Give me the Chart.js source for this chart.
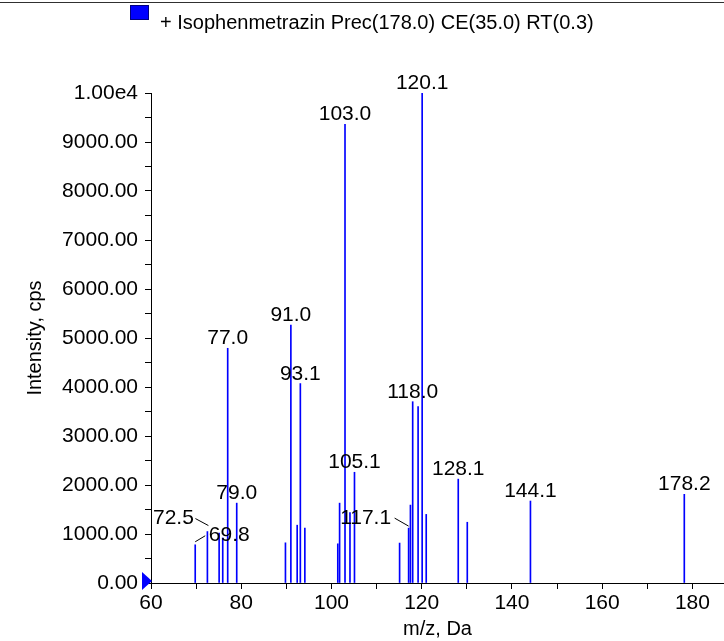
<!DOCTYPE html>
<html lang="en">
<head>
    <meta charset="UTF-8">
    <title>Isophenmetrazin MS/MS</title>
    <style>
        * { padding: 0; margin: 0; }
        body { background: white; }
        canvas { display: block; }
    </style>
</head>
<body>
    <canvas id="spectrum" width="724" height="641"></canvas>

    <script src="https://cdn.jsdelivr.net/npm/chart.js"></script>
    <script>
        // data
        const mzValues = [69.8, 72.5, 75.1, 75.9, 77.0, 79.0, 89.8, 91.0, 92.4, 93.1, 94.1,
                          101.4, 101.8, 103.0, 104.1, 105.1, 115.1, 117.1, 117.5, 118.0, 119.2,
                          120.1, 121.0, 128.1, 130.1, 144.1, 178.2];
        const intensities = [780, 1050, 1020, 920, 4790, 1630, 820, 5265, 1180, 4070, 1120,
                             800, 1630, 9360, 1435, 2260, 815, 1120, 1590, 3700, 3600,
                             10000, 1400, 2120, 1240, 1673, 1810];
        const peakLabels = ['69.8', '72.5', null, null, '77.0', '79.0', null, '91.0', null, '93.1', null,
                            null, null, '103.0', null, '105.1', null, '117.1', null, '118.0', null,
                            '120.1', null, '128.1', null, '144.1', '178.2'];
        const titleText = '+ Isophenmetrazin Prec(178.0) CE(35.0) RT(0.3)';

        const FONT = "'Liberation Sans', Arial, sans-serif";

        // labels that sit beside the peak with a short leader line
        const leaders = {
            '72.5': { dx: -34, dy: -8, x1: -12, y1: -13, x2: 1, y2: -6 },
            '69.8': { dx: 34, dy: -4, x1: 0, y1: -3, x2: 10, y2: -9 },
            '117.1': { dx: -43, dy: -4, x1: -14, y1: -10, x2: 0, y2: -2 }
        };

        const peakLabelPlugin = {
            id: 'peakLabels',
            afterDatasetsDraw(chart) {
                const ctx = chart.ctx;
                const xs = chart.scales.x, ys = chart.scales.y;
                ctx.save();
                ctx.font = '21px ' + FONT;
                ctx.fillStyle = 'black';
                ctx.strokeStyle = 'black';
                ctx.lineWidth = 1;
                ctx.textAlign = 'center';
                ctx.textBaseline = 'alphabetic';
                peakLabels.forEach((lbl, i) => {
                    if (!lbl) return;
                    const px = xs.getPixelForValue(mzValues[i]);
                    const py = ys.getPixelForValue(intensities[i]);
                    const l = leaders[lbl];
                    if (l) {
                        ctx.fillText(lbl, px + l.dx, py + l.dy);
                        ctx.beginPath();
                        ctx.moveTo(px + l.x1, py + l.y1);
                        ctx.lineTo(px + l.x2, py + l.y2);
                        ctx.stroke();
                    } else {
                        ctx.fillText(lbl, px, py - 4);
                    }
                });

                // blue marker at the origin of the y axis
                const y0 = ys.getPixelForValue(0);
                const x0 = xs.left;
                ctx.fillStyle = '#0000ff';
                ctx.beginPath();
                ctx.moveTo(x0 - 9, y0 - 11);
                ctx.lineTo(x0 + 1, y0 - 2);
                ctx.lineTo(x0 - 9, y0 + 7);
                ctx.closePath();
                ctx.fill();
                ctx.restore();
            },
            afterDraw(chart) {
                // header strip: border line, legend box and trace title
                const ctx = chart.ctx;
                ctx.save();
                ctx.strokeStyle = '#303030';
                ctx.lineWidth = 1;
                ctx.beginPath();
                ctx.moveTo(0, 2.5);
                ctx.lineTo(chart.width, 2.5);
                ctx.stroke();
                ctx.fillStyle = '#0000ff';
                ctx.fillRect(130, 5, 19, 15);
                ctx.strokeStyle = '#000080';
                ctx.strokeRect(130.5, 5.5, 18, 14);
                ctx.fillStyle = 'black';
                ctx.font = '20px ' + FONT;
                ctx.textAlign = 'left';
                ctx.textBaseline = 'alphabetic';
                ctx.fillText(titleText, 160, 29);
                ctx.restore();
            }
        };

        new Chart(document.getElementById('spectrum'), {
            type: 'bar',
            data: {
                datasets: [{
                    label: titleText,
                    data: mzValues.map((m, i) => ({ x: m, y: intensities[i] })),
                    backgroundColor: '#0000ff',
                    borderWidth: 0,
                    barThickness: 1
                }]
            },
            options: {
                responsive: false,
                animation: false,
                layout: { padding: { top: 93, right: 0, bottom: 0, left: 0 } },
                plugins: {
                    legend: { display: false },
                    tooltip: { enabled: false }
                },
                scales: {
                    x: {
                        type: 'linear',
                        min: 60,
                        max: 187,
                        offset: false,
                        grid: { offset: false, drawOnChartArea: false, tickLength: 6, color: 'black' },
                        border: { color: 'black' },
                        ticks: {
                            stepSize: 10,
                            autoSkip: false,
                            includeBounds: false,
                            maxRotation: 0,
                            padding: 2,
                            color: 'black',
                            font: { family: FONT, size: 21 },
                            callback: v => (v % 20 === 0 ? String(v) : '')
                        },
                        title: {
                            display: true,
                            text: 'm/z, Da',
                            color: 'black',
                            font: { family: FONT, size: 20 },
                            padding: { top: 0, bottom: 0 }
                        },
                        afterFit: scale => { scale.height = 58; }
                    },
                    y: {
                        min: 0,
                        max: 10000,
                        grid: { drawOnChartArea: false, tickLength: 6, color: 'black' },
                        border: { color: 'black' },
                        ticks: {
                            stepSize: 500,
                            autoSkip: false,
                            padding: 7,
                            color: 'black',
                            font: { family: FONT, size: 21 },
                            callback: v => {
                                if (v % 1000 !== 0) return '';
                                return v === 10000 ? '1.00e4' : v.toFixed(2);
                            }
                        },
                        title: {
                            display: true,
                            text: 'Intensity, cps',
                            color: 'black',
                            font: { family: FONT, size: 20 },
                            padding: { top: 23, bottom: 0 }
                        },
                        afterFit: scale => { scale.width = 151; }
                    }
                }
            },
            plugins: [peakLabelPlugin]
        });
    </script>
</body>
</html>
